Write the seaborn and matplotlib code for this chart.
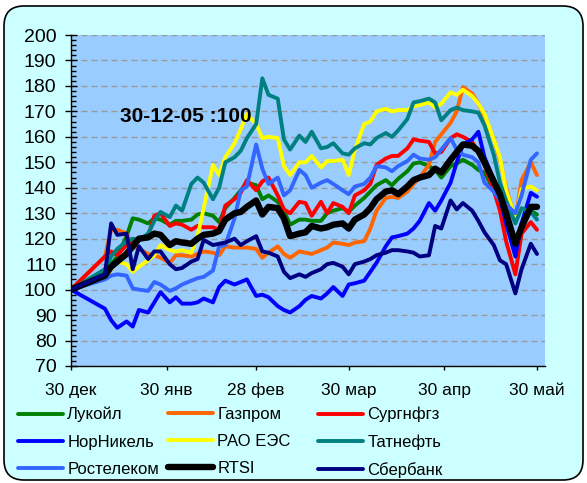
import pandas as pd
import matplotlib
matplotlib.use('Agg')
import matplotlib.pyplot as plt
import seaborn as sns
from matplotlib.patches import FancyBboxPatch
from matplotlib.lines import Line2D
from matplotlib.ticker import MultipleLocator

plt.rcParams['font.family'] = ['Liberation Sans', 'DejaVu Sans']

# days after 30-12-2005
days = [0, 11, 13, 15, 18, 20, 22, 25, 27, 29,
        32, 34, 36, 39, 41, 43, 46, 48, 50, 53,
        55, 57, 60, 62, 64, 67, 69, 71, 74, 76,
        78, 81, 83, 85, 88, 90, 92, 95, 97, 99,
        102, 104, 106, 109, 111, 113, 116, 118, 120, 123,
        125, 127, 130, 132, 134, 137, 139, 141, 144, 146,
        149, 151]

lukoil = [100, 107, 110, 113, 121, 128, 127.5, 126, 128, 127.5,
          125.5, 127, 127, 127.5, 129.5, 130, 129, 126.5, 132, 136,
          139, 142, 141, 135.5, 137, 134.5, 131, 125.5, 127.5, 127.5,
          127, 127, 130, 131, 132, 130.5, 133, 136, 138.5, 141,
          143, 141, 143.5, 146.5, 149.5, 150, 148.5, 147, 144, 148.5,
          149.5, 151, 149, 147, 146, 139, 133, 126, 114.5, 126,
          131, 129.5]
gazprom = [100, 113, 123.5, 123.5, 122, 117, 116, 114, 113.5, 112.5,
           110.5, 113.5, 113.5, 113, 114, 115, 114.5, 113.5, 117, 116.5,
           116.5, 116.5, 116, 112.5, 114.5, 117, 114, 112.5, 115, 114.5,
           114, 115.5, 116.5, 118.5, 118, 117.5, 118.5, 119, 124, 131,
           136, 136.5, 136, 138.5, 141.5, 144, 149, 158, 161, 165.5,
           170, 179.5, 177, 173, 168, 159, 151, 140, 127.5, 143,
           150, 145]
surgut = [100, 113, 115, 113.5, 117.5, 118.5, 119.5, 121, 129, 130,
          125, 126, 125.5, 123.5, 125, 124.5, 124.5, 123.5, 133, 135.5,
          138, 143, 139, 142.5, 144, 137, 131.5, 130, 134.5, 134,
          129, 134.5, 130, 134, 132.5, 130, 137, 139, 141.5, 149,
          151.5, 152.5, 152.5, 155.5, 159, 158.5, 158, 153.5, 154, 159.5,
          161, 160, 158, 154, 149, 139, 131, 119, 106, 122,
          126.5, 123.5]
nornickel = [100, 92.5, 88, 85, 87.5, 85.5, 92, 91, 95, 99,
             95, 97, 94.5, 94.5, 95, 96.5, 95, 101, 103.5, 102,
             103, 104, 97.5, 98, 97, 93.5, 92, 91, 93.5, 96,
             97.5, 96.5, 98.5, 101, 97.5, 102, 102.5, 103.5, 107, 110.5,
             117, 120.5, 121, 122, 124, 127, 134, 131, 135, 142,
             150, 157, 159, 162, 152, 143, 136, 126, 113, 126,
             138, 136.5]
rao_ees = [100, 104.5, 108, 111, 110, 107, 109, 111.5, 113.5, 117.5,
           115.5, 115, 115.5, 114.5, 121, 132, 149, 145, 152, 157.5,
           163, 169, 165, 159.5, 160, 159.5, 148.5, 145, 150, 150,
           152.5, 148, 150.5, 150.5, 151, 145, 155, 165, 166, 170,
           171, 170, 170.5, 170.5, 172, 172.5, 173.5, 171.5, 173, 177.5,
           176.5, 178.5, 176, 173, 169, 159, 152, 139, 128, 139.5,
           140.5, 139]
tatneft = [100, 108, 113, 116, 119, 120, 119.5, 122, 127, 130.5,
           128.5, 133, 131, 141.5, 144, 142, 135.5, 140, 150, 152,
           154.5, 159.5, 165, 183, 176.5, 175, 159, 155, 160.5, 158,
           162, 155.5, 156, 157.5, 153.5, 153, 155.5, 157.5, 157, 159.5,
           161.5, 160, 162.5, 167, 173.5, 174, 175, 173.5, 166.5, 170.5,
           171.5, 170.5, 170, 169.5, 164.5, 153, 142, 135, 126, 132,
           130.5, 127.5]
rostelecom = [100, 104, 105.5, 106, 105.5, 100.5, 100, 99.5, 103, 102,
              99.5, 100.5, 102, 103.5, 104.5, 105, 107.5, 117, 117.5, 128,
              139, 140.5, 157, 147.5, 141.5, 144, 137, 139, 147, 145,
              140, 142, 143, 141.5, 139, 137.5, 140.5, 141.5, 144, 148.5,
              148, 146.5, 148.5, 150.5, 153, 151.5, 151, 152, 155, 159.5,
              155, 153, 152, 150, 142, 138.5, 135, 133.5, 130, 137,
              151, 153.5]
rtsi = [100, 105.5, 109, 111, 114, 117, 120, 120.5, 122, 121.5,
        117.5, 119, 118.5, 118, 120, 121.5, 122, 123, 127.5, 130,
        130.5, 132.5, 135, 129.5, 132.5, 132, 128, 121, 122, 122.5,
        125, 124, 124.5, 125.5, 126, 124, 127.5, 129.5, 132, 135.5,
        138.5, 139, 137.5, 140.5, 143, 144, 145, 147.5, 146, 151,
        154, 157, 156.5, 154.5, 150, 142.5, 137.5, 130, 118, 124.5,
        132.5, 132.5]
sberbank = [100, 106, 126, 121.5, 122, 108, 117, 112, 115, 115,
            110, 108, 108.5, 111, 112, 119.5, 117.5, 118, 118.5, 120,
            117.5, 119, 121, 115, 114.5, 113, 107, 104.5, 106, 105,
            106.5, 108, 110, 110.5, 109, 106, 110, 111, 112, 113.5,
            114.5, 115.5, 115.5, 115, 114.5, 113, 113.5, 125, 124, 135,
            131.5, 134, 131, 127, 122.5, 117.5, 111.5, 110, 98.5, 108,
            118, 114]

names = ['Лукойл', 'Газпром', 'Сургнфгз', 'НорНикель', 'РАО ЕЭС',
         'Татнефть', 'Ростелеком', 'RTSI', 'Сбербанк']
series = [lukoil, gazprom, surgut, nornickel, rao_ees, tatneft, rostelecom, rtsi, sberbank]
colors = ['#008000', '#FF6600', '#FF0000', '#0000FF', '#FFFF00',
          '#008080', '#3366FF', '#000000', '#000080']
widths = [2.8, 2.8, 2.8, 2.8, 2.8, 2.8, 2.8, 4.6, 2.8]

tick_dates = ['2005-12-30', '2006-01-30', '2006-02-28', '2006-03-30', '2006-04-30', '2006-05-30']
tick_labels = ['30 дек', '30 янв', '28 фев', '30 мар', '30 апр', '30 май']

base = pd.Timestamp('2005-12-30')
dates = base + pd.to_timedelta(days, unit='D')

fig = plt.figure(figsize=(5.87, 4.83), dpi=100, facecolor='white')
bg = FancyBboxPatch((0.04, 0.03), 5.79, 4.74, boxstyle='round,pad=0,rounding_size=0.2',
                    transform=fig.dpi_scale_trans, facecolor='#CCFFFF', edgecolor='black',
                    lw=1.2, zorder=-10)
fig.add_artist(bg)

ax = fig.add_axes([71/587, 1 - 366/483, (545 - 71)/587, (366 - 35)/483])
ax.set_facecolor('#99CCFF')

for name, vals, c, w in zip(names, series, colors, widths):
    df = pd.DataFrame({'date': dates, 'value': vals})
    sns.lineplot(data=df, x='date', y='value', color=c, lw=w, ax=ax,
                 solid_joinstyle='round', solid_capstyle='round')

ax.set_ylim(70, 200)
ax.set_yticks(range(70, 201, 10))
ax.yaxis.set_minor_locator(MultipleLocator(2))
ax.set_xlim(base, base + pd.Timedelta(days=153.6))
ax.set_xticks(pd.to_datetime(tick_dates))
ax.set_xticklabels(tick_labels)
ax.set_xlabel('')
ax.set_ylabel('')

ax.tick_params(axis='y', which='major', direction='inout', length=9, width=1, labelsize=14, pad=6)
ax.tick_params(axis='y', which='minor', direction='in', length=3.6, width=1)
ax.tick_params(axis='x', which='major', direction='out', length=3, width=1, labelsize=12.5, pad=9)
ax.tick_params(axis='x', which='minor', length=0)

for s in ['top', 'right']:
    ax.spines[s].set_visible(False)
for s in ['left', 'bottom']:
    ax.spines[s].set_color('black')
    ax.spines[s].set_linewidth(1)

ax.yaxis.grid(True, linestyle=(0, (4.3, 2.9)), color='#999999', lw=1)
ax.set_axisbelow(True)

ax.text(base + pd.Timedelta(days=16), 168, '30-12-05 :100', fontsize=15,
        fontweight='bold', va='center', ha='left')

# legend: three columns
col_x = [18, 168, 318]
for k in range(3):
    hs = []
    for j in range(k, 9, 3):
        hs.append(Line2D([0], [0], color=colors[j], lw=widths[j],
                         solid_capstyle='round'))
    labs = [names[j] for j in range(k, 9, 3)]
    fig.legend(hs, labs, loc='upper left', bbox_to_anchor=(col_x[k]/587, 1 - 407/483),
               frameon=False, fontsize=12, handlelength=2.7, handletextpad=0.25,
               borderpad=0, borderaxespad=0, labelspacing=0.72, ncols=1)

fig.savefig('out.png', dpi=100, facecolor=fig.get_facecolor())
